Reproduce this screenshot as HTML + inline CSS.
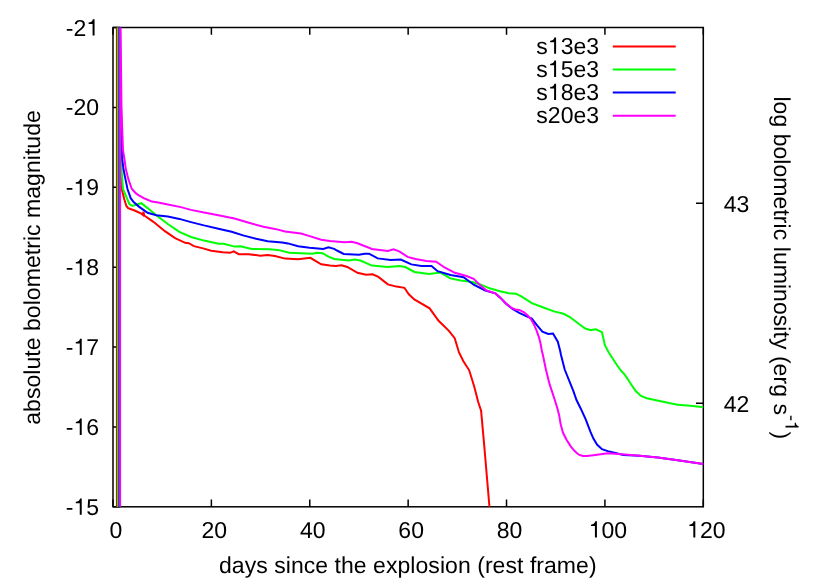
<!DOCTYPE html>
<html><head><meta charset="utf-8"><title>Bolometric light curves</title>
<style>
html,body{margin:0;padding:0;background:#fff;}
svg{display:block;will-change:transform;}
text{font-family:"Liberation Sans",sans-serif;font-size:23px;letter-spacing:0.05px;fill:#000;text-rendering:geometricPrecision;}
</style></head>
<body>
<svg width="830" height="581" viewBox="0 0 830 581">
<rect width="830" height="581" fill="#fff"/>
<defs><clipPath id="c"><rect x="113.0" y="27.5" width="590.30" height="479.30"/></clipPath></defs>
<rect x="113.0" y="27.5" width="590.30" height="479.30" fill="none" stroke="#000" stroke-width="1.5"/><path d="M113.00,506.8v-7.3M113.00,27.5v7.3M211.38,506.8v-7.3M211.38,27.5v7.3M309.77,506.8v-7.3M309.77,27.5v7.3M408.15,506.8v-7.3M408.15,27.5v7.3M506.53,506.8v-7.3M506.53,27.5v7.3M604.92,506.8v-7.3M604.92,27.5v7.3M703.30,506.8v-7.3M703.30,27.5v7.3M113.0,27.50h7.3M113.0,107.38h7.3M113.0,187.27h7.3M113.0,267.15h7.3M113.0,347.03h7.3M113.0,426.92h7.3M113.0,506.80h7.3M703.3,203.3h-7.3M703.3,403.2h-7.3" fill="none" stroke="#000" stroke-width="1.5"/>
<g clip-path="url(#c)" stroke-linejoin="miter" stroke-linecap="butt">
<polyline points="116.9,507 116.9,20 117.4,20 118.2,100 119.6,150 121.1,182 121.6,188.6 124.2,199 126.4,206 128.1,208.1 134.6,210.5 141.8,213.9 143.0,215.0 143.5,211.7 144.2,215.5 153.4,221.8 164.9,231.2 175.1,238.1 185.2,242.8 188.8,243.2 193.9,246.1 204,248.6 211.2,250.7 222.8,252.3 230.1,252.8 233.7,251.3 238.8,254.2 248.9,254.2 260.5,255.7 267.7,254.9 274.9,256.1 285.1,258.6 298.1,259.3 310.4,257.8 321.2,264.3 329.9,265.4 335.8,265.9 341.6,265.3 347.3,267 357.5,272.8 366.1,274.7 372.6,274.3 378.4,276.9 387.8,284.4 396.5,286.6 404.4,287.8 408.8,294.3 414.3,299.4 429.6,308.3 438.6,320.8 448.9,330.8 454.7,338.1 459,352.5 463.4,361.2 469.2,370.3 474.2,386.5 478.2,402 481.1,410.8 484.2,445.2 489.3,505 489.7,510" fill="none" stroke="#ff0000" stroke-width="2"/>
<polyline points="118.0,507 118.0,20 118.5,20 119.3,100 120.6,150 121.6,170 123,189 126.9,198.2 129.3,204 132.4,205.9 137.5,204.2 141.3,203.2 147.6,208.1 156.3,215.3 167.8,224 179.4,231.9 191,237 204,240.6 218.4,243.8 223.6,243.8 234.5,246.6 240.2,246.3 251.8,248.9 269.2,249.2 277.8,249.9 289.4,252.8 301,253.2 312.5,253.8 316.9,252.8 322.6,253.2 328.4,256.7 334.2,259.0 338.7,259.5 348.8,260.5 354.6,259.5 360.4,260.5 371.9,265.6 387.8,267 399.4,266 405.2,267 414.5,272 428.9,273.9 440.5,272.6 450.3,278.4 460.7,280.6 472.3,282.1 481,284.7 489.6,288.3 500,291.3 508.7,293.3 515.9,293.7 521.7,296.6 531.8,303.2 543.4,307.5 554,311.4 563.6,313.8 570.2,317.3 580,324.8 585.3,328.5 590.6,330.1 595.9,329.2 602,332.3 604.9,345.1 608.9,352.8 616.9,365 620.8,370.3 625.1,375.1 630.4,383.3 635.7,391 641,396 646.8,398.3 658.4,400.7 669,403.1 677.7,404.7 687.3,405.5 695,406.2 703.3,407.2" fill="none" stroke="#00ff00" stroke-width="2"/>
<polyline points="119.4,507 119.4,20 119.9,20 120.6,80 121.8,150 122.3,159.6 123.5,169.3 125.4,178.9 127.5,189 130.7,198.2 133.6,202 138.9,206.6 147.6,212.8 156.3,215.3 167.8,216.5 179.4,218.9 191,222.1 204,225.4 218.4,228.7 231.6,231.8 243.1,235.4 256.1,238.7 267.7,241.2 282.2,242.4 288,243.4 298.1,246.3 309.6,247.7 323.4,248.9 328.4,247.4 334.2,248.9 337,250.5 343.7,254 358.9,254.8 364.7,253.7 369,253.7 377.7,258.4 390.7,260.1 400.8,259.6 411.3,264.4 421.4,266 431.5,265.9 437.6,271.2 450.5,275 463.6,277.2 473.7,284.7 485.3,290.5 495.4,293.4 500,297.4 505.8,303.4 512.5,309 519.3,312.8 525.1,315.7 531.8,318.6 537.1,325.4 542.4,331.6 548.2,334 553,333.6 557.8,341.7 560.2,351 561,355 564.7,369.5 573.4,391.1 576.5,400 580.8,408.7 585.7,419.3 590.5,431.8 593.4,438.6 597.2,444.8 602,449.2 607.8,451.1 615.5,453 623.3,455 639.6,455.7 657.8,457.6 679.5,460.5 703.3,463.9" fill="none" stroke="#0000ff" stroke-width="2"/>
<polyline points="120.1,507 120.1,20 120.5,20 121.5,110 123,150 124.5,159.6 125.9,169.3 128.3,178.9 131.7,188.8 136,193.4 138.9,195.3 143.7,198.2 147.6,199.8 151.9,201.6 158.2,202.6 167.8,204.5 180.8,207.1 191,209.9 204,212.4 218.4,215.2 234.5,218.5 248.9,222.8 263.4,226.7 274.9,228.9 285.1,231.5 301,233.5 309.6,236.1 321.2,239.8 329.9,241.1 344.5,242.2 351.7,241.7 357.5,243.2 371.9,249 387.8,250.9 393.6,249.4 399.7,251.6 407.6,256.9 415.5,259 426.4,261 436.2,261.7 444.5,267.5 454.9,272.8 466.5,276 473.7,278.9 481,286.1 486.7,290.5 495.4,293.4 500,297.4 505.8,303.2 511.6,308 515.4,309.5 519.3,309.9 524.1,312.3 528,315.7 530.8,319.1 533.7,323.9 536.6,330.7 539,337.4 540.5,343.2 541.9,351 542.9,355 545.9,369.5 549.5,383.9 554.8,400 557.2,407.7 559.2,415.4 560.6,424.1 563,432.8 566.4,439.5 570.7,446.3 575.1,451.6 578.9,454.7 582.8,456 587,456.1 593.4,455.2 607.8,453.2 622.3,454.2 639.6,455.7 657.8,457.6 679.5,460.5 703.3,463.9" fill="none" stroke="#ff00ff" stroke-width="2"/>
</g>
<text x="536.28" y="53.80">s</text><path d="M359,0H273V502H101V563C196,570 262,618 287,709H359Z" transform="translate(547.83,53.80) scale(0.02300,-0.02300)" fill="#000"/><text x="560.68" y="53.80">3e3</text><path d="M612.8,46.4H675.7" stroke="#ff0000" stroke-width="2" fill="none"/>
<text x="536.28" y="76.90">s</text><path d="M359,0H273V502H101V563C196,570 262,618 287,709H359Z" transform="translate(547.83,76.90) scale(0.02300,-0.02300)" fill="#000"/><text x="560.68" y="76.90">5e3</text><path d="M612.8,69.5H675.7" stroke="#00ff00" stroke-width="2" fill="none"/>
<text x="536.28" y="100.00">s</text><path d="M359,0H273V502H101V563C196,570 262,618 287,709H359Z" transform="translate(547.83,100.00) scale(0.02300,-0.02300)" fill="#000"/><text x="560.68" y="100.00">8e3</text><path d="M612.8,92.6H675.7" stroke="#0000ff" stroke-width="2" fill="none"/>
<text x="536.28" y="123.10">s20e3</text><path d="M612.8,115.7H675.7" stroke="#ff00ff" stroke-width="2" fill="none"/>

<text x="65.76" y="35.50">-2</text><path d="M359,0H273V502H101V563C196,570 262,618 287,709H359Z" transform="translate(86.31,35.50) scale(0.02300,-0.02300)" fill="#000"/><text x="65.76" y="115.38">-20</text><text x="65.76" y="195.27">-</text><path d="M359,0H273V502H101V563C196,570 262,618 287,709H359Z" transform="translate(73.47,195.27) scale(0.02300,-0.02300)" fill="#000"/><text x="86.31" y="195.27">9</text><text x="65.76" y="275.15">-</text><path d="M359,0H273V502H101V563C196,570 262,618 287,709H359Z" transform="translate(73.47,275.15) scale(0.02300,-0.02300)" fill="#000"/><text x="86.31" y="275.15">8</text><text x="65.76" y="355.03">-</text><path d="M359,0H273V502H101V563C196,570 262,618 287,709H359Z" transform="translate(73.47,355.03) scale(0.02300,-0.02300)" fill="#000"/><text x="86.31" y="355.03">7</text><text x="65.76" y="434.92">-</text><path d="M359,0H273V502H101V563C196,570 262,618 287,709H359Z" transform="translate(73.47,434.92) scale(0.02300,-0.02300)" fill="#000"/><text x="86.31" y="434.92">6</text><text x="65.76" y="514.80">-</text><path d="M359,0H273V502H101V563C196,570 262,618 287,709H359Z" transform="translate(73.47,514.80) scale(0.02300,-0.02300)" fill="#000"/><text x="86.31" y="514.80">5</text><text x="109.58" y="537.60">0</text><text x="201.54" y="537.60">20</text><text x="299.93" y="537.60">40</text><text x="398.31" y="537.60">60</text><text x="496.69" y="537.60">80</text><path d="M359,0H273V502H101V563C196,570 262,618 287,709H359Z" transform="translate(588.65,537.60) scale(0.02300,-0.02300)" fill="#000"/><text x="601.50" y="537.60">00</text><path d="M359,0H273V502H101V563C196,570 262,618 287,709H359Z" transform="translate(687.04,537.60) scale(0.02300,-0.02300)" fill="#000"/><text x="699.88" y="537.60">20</text><text x="723.7" y="211.6">43</text><text x="723.7" y="411.5">42</text><text x="407.8" y="573" text-anchor="middle">days since the explosion (rest frame)</text><text transform="translate(40.2,267.45) rotate(-90)" text-anchor="middle">absolute bolometric magnitude</text><g transform="translate(774,96.4) rotate(90)"><text>log bolometric luminosity (erg s</text><text x="318.6" y="-11.5" style="font-size:18.4px">-</text><path d="M359,0H273V502H101V563C196,570 262,618 287,709H359Z" transform="translate(324.4,-11.5) scale(0.0184,-0.0184)" fill="#000"/><text x="335.1" y="0">)</text></g>
</svg>
</body></html>
